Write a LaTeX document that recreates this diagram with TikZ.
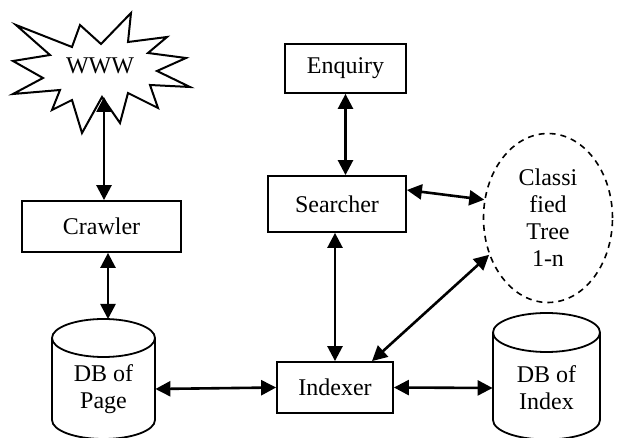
\documentclass[tikz,border=0pt]{standalone}
\usepackage{fontspec}
\setmainfont{Liberation Serif}
\usetikzlibrary{arrows.meta,shapes.geometric,calc}
\begin{document}
\begin{tikzpicture}[x=0.5pt,y=-0.5pt,
  font=\fontsize{12}{13.5}\selectfont,
  box/.style={draw,line width=0.9pt,inner sep=0pt,align=center},
  dbtext/.style={inner sep=0pt,align=center,minimum width=51.5pt,minimum height=51pt},
  link/.style={line width=1.3pt,{Triangle[length=7.5pt,width=7.5pt]}-{Triangle[length=7.5pt,width=7.5pt]}},
  shell/.style={line width=0.9pt}]
\useasboundingbox (0,0) rectangle (618,438);

% the web, drawn as a burst
\draw[line width=1pt,fill=white]
  (16,25) -- (72,47) -- (80,25) -- (101,44) -- (131,13) -- (128,42) -- (167,37)
  -- (148,53) -- (186,58) -- (157,71) -- (190,87) -- (150,85) -- (158,108)
  -- (128,93) -- (120,123) -- (102,97) -- (82,133) -- (72,100) -- (52,110)
  -- (60,90) -- (13,94) -- (43,78) -- (13,61) -- (50,55) -- cycle;
\node[inner sep=0pt] (www) at (100,66) {WWW};
\coordinate (wwwtip) at (104,97);

% boxes
\node[box,minimum width=79.5pt,minimum height=25.5pt] (crawler) at (101.5,226.5) {Crawler};
\node[box,minimum width=60.5pt,minimum height=24.5pt] (enquiry) at (345.5,68.5) {Enquiry};
\node[box,minimum width=69pt,minimum height=28pt] (searcher) at (337,204) {Searcher};
\node[box,minimum width=58pt,minimum height=25.5pt] (indexer) at (335,387.5) {Indexer};

% classified tree
\node[draw,dashed,dash pattern=on 3pt off 2.5pt,line width=0.8pt,ellipse,
  minimum width=64.5pt,minimum height=84.5pt,inner sep=0pt,align=center] (tree)
  at (548,218) {Classi\\fied\\Tree\\1-n};

% database of pages
\draw[shell] (52,338) -- (52,420) arc[start angle=180,end angle=360,x radius=25.75pt,y radius=9.5pt] -- (155,338);
\draw[shell] (103.5,338) ellipse [x radius=25.75pt,y radius=9.5pt];
\coordinate (pagetop) at (108,319);
\node[dbtext] (dbpage) at (103.5,389) {DB of\\Page};

% database of index
\draw[shell] (493,332.5) -- (493,420) arc[start angle=180,end angle=360,x radius=26.75pt,y radius=9.75pt] -- (600,332.5);
\draw[shell] (546.5,332.5) ellipse [x radius=26.75pt,y radius=9.75pt];
\node[dbtext,minimum width=53.5pt] (dbindex) at (546.5,388) {DB of\\Index};

% connectors
\draw[link] (wwwtip) -- (wwwtip |- crawler.north);
\draw[link] ($(crawler.south)+(6.5,0)$) -- (pagetop);
\draw[link] (enquiry.south) -- (enquiry.south |- searcher.north);
\draw[link] ([yshift=7pt]searcher.east) -- (tree.164);
\draw[link] (searcher.south -| indexer.north) -- (indexer.north);
\draw[link] (tree.212) -- ($(indexer.north)+(37,0)$);
\draw[link] (dbpage.east) -- (indexer.west);
\draw[link] (indexer.east) -- (dbindex.west);
\end{tikzpicture}
\end{document}
